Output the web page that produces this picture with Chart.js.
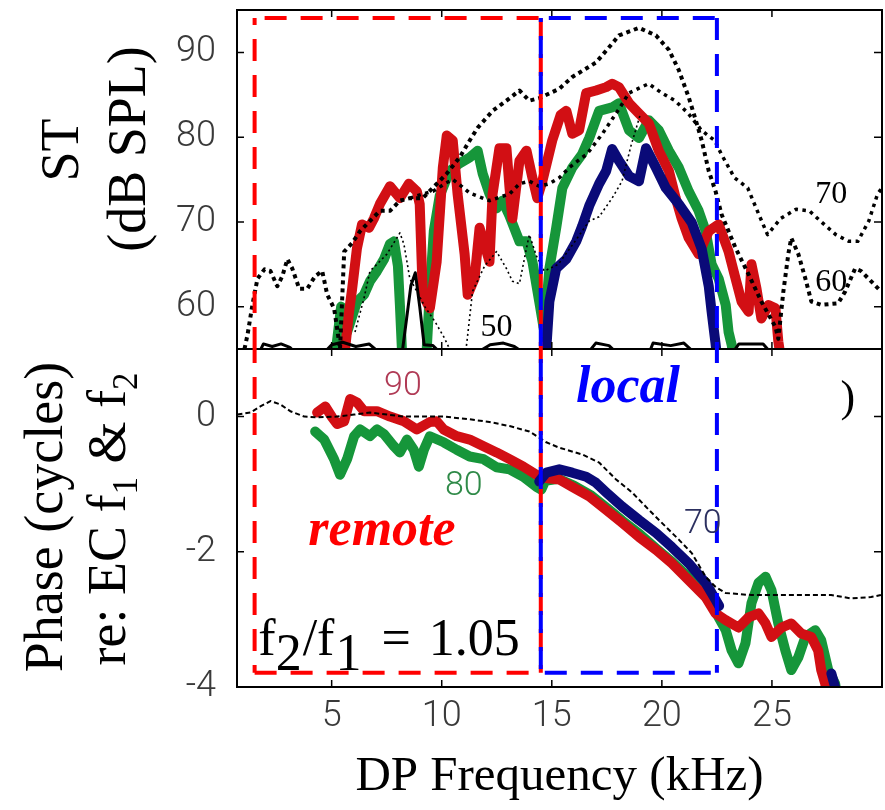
<!DOCTYPE html>
<html>
<head>
<meta charset="utf-8">
<script src="https://cdn.jsdelivr.net/npm/chart.js@4.4.1/dist/chart.umd.min.js"></script>
<style>
  html, body { margin: 0; padding: 0; background: #fff; }
  #wrap { position: relative; width: 885px; height: 810px; }
  #topBox { position: absolute; left: 0; top: 0; width: 885px; height: 349px; }
  #botBox { position: absolute; left: 0; top: 349px; width: 885px; height: 461px; }
</style>
</head>
<body>
<div id="wrap">
  <div id="topBox"><canvas id="stChart"></canvas></div>
  <div id="botBox"><canvas id="phaseChart"></canvas></div>
</div>
<script>
// tick labels
const freqTicks = [5, 10, 15, 20, 25];
const stTicks = [60, 70, 80, 90];
const phaseTicks = [0, -2, -4];

// ST level (dB SPL) vs DP frequency (kHz), [kHz, dB]
const st90 = [[5.57,54.0],[5.79,59.4],[5.93,62.1],[6.15,66.9],[6.38,69.7],[6.70,69.3],[6.92,70.4],[7.19,72.1],[7.65,74.2],[8.10,72.8],[8.51,74.5],[8.87,73.6],[9.00,72.1],[9.14,61.4],[9.46,59.8],[9.77,65.3],[10.05,76.4],[10.23,80.2],[10.50,79.6],[10.72,73.3],[11.04,66.2],[11.18,61.4],[11.49,63.3],[11.72,69.3],[12.17,65.3],[12.31,73.3],[12.62,78.7],[12.94,78.7],[13.08,74.0],[13.21,70.4],[13.53,77.2],[13.85,78.4],[14.12,75.2],[14.34,72.8],[14.57,74.8],[15.02,79.6],[15.40,82.6],[15.66,83.1],[15.93,80.4],[16.24,80.8],[16.56,85.2],[17.01,85.5],[17.47,85.9],[17.74,86.3],[18.05,85.9],[18.51,84.0],[18.96,82.8],[19.41,81.6],[19.86,78.4],[20.32,76.0],[20.63,72.8],[20.90,70.4],[21.22,68.1],[21.67,66.2],[22.13,68.9],[22.58,69.7],[23.03,66.5],[23.35,63.3],[23.62,60.6],[23.94,59.4],[24.07,65.0],[24.30,62.1],[24.52,58.6],[24.84,60.2],[25.16,59.8],[25.29,55.9],[25.40,54.0]];
const st80 = [[5.20,55.0],[5.43,60.0],[5.70,57.0],[5.93,58.8],[6.15,60.6],[6.47,61.4],[6.74,63.0],[7.06,64.2],[7.38,65.6],[7.65,67.4],[7.83,67.7],[8.01,64.8],[8.10,60.2],[8.19,55.0],[8.28,53.5],[9.23,53.5],[9.32,55.0],[9.46,61.8],[9.64,68.9],[9.91,73.1],[10.36,76.0],[10.81,76.9],[11.27,77.6],[11.63,78.4],[11.86,75.7],[12.17,73.3],[12.49,71.6],[12.76,72.5],[13.08,70.7],[13.53,67.7],[13.85,67.7],[14.12,65.3],[14.43,60.6],[14.66,57.0],[14.89,64.5],[15.20,69.3],[15.48,74.0],[15.93,76.4],[16.38,78.0],[16.70,79.9],[17.15,83.1],[17.74,83.5],[18.05,84.0],[18.51,80.8],[18.96,79.9],[19.41,82.0],[19.86,80.8],[20.32,78.4],[20.77,76.4],[21.22,73.6],[21.67,71.3],[21.99,68.9],[22.26,65.0],[22.58,63.3],[22.90,60.2],[23.03,57.0],[23.17,55.5],[23.30,53.5]];
const st70 = [[14.70,53.5],[14.75,55.0],[14.89,60.6],[15.20,64.5],[15.66,65.6],[16.11,67.7],[16.38,69.5],[16.70,71.9],[17.15,74.5],[17.47,76.0],[17.74,78.6],[18.05,77.2],[18.51,75.4],[18.96,74.8],[19.28,78.7],[19.73,76.4],[20.18,74.0],[20.77,72.1],[21.36,69.9],[21.81,66.8],[22.13,62.4],[22.26,59.4],[22.44,55.6],[22.53,53.5]];
const stDotUpper = [[1.04,55.0],[1.18,56.7],[1.40,60.2],[1.63,63.3],[1.95,64.4],[2.22,64.2],[2.53,62.4],[2.76,63.6],[2.99,65.6],[3.21,64.5],[3.53,62.1],[3.89,62.1],[4.25,63.6],[4.57,64.2],[4.80,61.4],[5.11,59.8],[5.25,57.4],[5.38,55.0],[5.57,66.5],[5.93,67.5],[6.29,68.9],[6.74,70.1],[7.19,71.3],[7.65,71.3],[8.10,72.5],[8.55,72.8],[9.14,72.8],[9.59,74.0],[10.23,75.7],[10.81,77.6],[11.27,79.6],[11.63,81.1],[12.31,83.1],[12.94,84.3],[13.53,85.5],[13.98,84.3],[14.43,84.6],[15.34,85.7],[15.93,87.1],[17.01,88.8],[17.60,90.6],[18.05,92.0],[18.96,92.9],[19.73,92.0],[20.32,90.3],[20.77,87.9],[21.22,84.7],[21.54,82.0],[21.81,79.6],[22.13,76.0],[22.44,73.6],[22.71,70.9],[23.35,66.9],[23.94,63.8],[24.52,60.6],[25.16,57.6],[25.29,56.2],[25.52,61.8],[25.75,66.3],[25.88,68.1],[26.20,66.2],[26.52,63.3],[26.79,60.6],[27.24,60.2],[28.01,60.4],[28.33,61.8],[28.78,64.5],[29.05,64.2],[29.50,63.0],[29.95,61.8]];
const stDotMid = [[8.55,72.8],[9.14,73.3],[9.60,73.6],[10.20,74.6],[10.50,75.0],[10.90,74.2],[11.27,73.4],[12.17,72.5],[13.08,73.3],[13.53,74.5],[13.98,74.8],[14.43,74.2],[14.89,74.5],[15.34,75.2],[15.79,76.4],[16.38,77.6],[16.60,78.0],[17.30,80.4],[18.10,83.5],[18.50,85.2],[19.40,86.3],[20.00,85.2],[20.60,84.3],[21.20,82.8],[21.80,80.8],[22.40,79.6],[22.70,78.0],[23.30,75.2],[23.90,74.0],[24.40,70.9],[24.80,68.5],[25.40,70.4],[26.10,71.5],[26.70,71.3],[27.20,70.1],[27.90,68.5],[28.50,67.7],[28.90,67.7],[29.40,70.1],[29.80,73.3],[30.00,74.0]];
const stDotThin = [[6.06,57.0],[6.47,61.0],[6.74,64.2],[7.06,65.0],[7.51,66.2],[7.96,68.1],[8.10,68.7],[8.28,67.4],[8.42,65.3],[8.55,63.3],[8.87,61.8],[9.23,60.0],[9.70,58.2],[10.10,56.4],[10.45,54.5],[11.05,54.5],[11.13,55.5],[11.40,61.8],[11.95,64.8],[12.49,66.5],[12.94,64.5],[13.21,63.0],[13.53,62.7],[13.85,66.9],[13.98,68.5],[14.30,66.0],[14.66,64.2],[15.30,65.0],[16.00,67.5],[16.70,70.1],[17.15,70.6],[17.74,72.8],[18.19,74.8],[18.60,79.0],[19.00,82.5]];
const stFloor = [[1.6,54.0],[1.9,55.6],[2.3,55.3],[2.7,55.6],[3.1,55.2],[3.4,54.4],[4.6,54.4],[5.0,55.5],[5.5,55.8],[6.1,55.3],[6.7,55.6],[7.2,54.5],[8.2,54.5],[8.4,58.5],[8.6,62.5],[8.8,64.0],[9.0,60.0],[9.2,55.5],[9.6,55.4],[10.0,54.4],[11.5,54.4],[12.2,55.5],[12.8,55.7],[13.3,55.3],[13.8,54.4],[16.6,54.4],[17.0,55.7],[17.6,55.4],[18.0,54.4],[19.4,54.4],[19.6,55.7],[20.4,55.4],[21.0,55.7],[21.5,54.5],[23.2,54.5],[23.5,55.6],[24.6,55.6],[25.0,54.4]];

// phase (cycles) vs DP frequency (kHz), [kHz, cycles]
const ph90 = [[4.34,0.06],[4.71,0.15],[5.02,-0.01],[5.25,-0.11],[5.57,-0.07],[5.84,0.26],[6.15,0.21],[6.47,0.08],[7.06,0.08],[7.65,0.00],[8.28,-0.07],[8.87,-0.19],[9.46,-0.08],[9.77,-0.07],[10.09,-0.19],[10.68,-0.29],[11.27,-0.34],[11.90,-0.44],[12.49,-0.53],[13.08,-0.63],[13.71,-0.74],[14.30,-0.86],[14.52,-0.90],[15.34,-0.93],[15.93,-1.04],[16.70,-1.18],[17.47,-1.38],[18.19,-1.57],[18.96,-1.78],[19.73,-1.97],[20.45,-2.17],[21.22,-2.42],[21.99,-2.67],[22.44,-2.91],[22.90,-3.01],[23.48,-3.12],[23.94,-2.97],[24.39,-2.91],[24.71,-3.06],[24.98,-3.26],[25.43,-3.12],[25.88,-3.06],[26.33,-3.21],[26.79,-3.26],[27.10,-3.46],[27.24,-3.75],[27.42,-3.95],[27.60,-4.30]];
const ph80 = [[4.25,-0.22],[4.66,-0.34],[5.11,-0.63],[5.38,-0.86],[5.70,-0.63],[6.02,-0.29],[6.29,-0.19],[6.74,-0.29],[7.06,-0.19],[7.38,-0.26],[7.83,-0.44],[8.10,-0.53],[8.42,-0.34],[8.73,-0.49],[8.96,-0.74],[9.19,-0.49],[9.46,-0.29],[10.09,-0.38],[10.68,-0.49],[11.27,-0.59],[11.90,-0.63],[12.49,-0.75],[13.08,-0.78],[13.71,-0.89],[14.30,-1.04],[14.52,-1.08],[14.70,-0.95],[15.30,-0.92],[16.00,-1.02],[16.80,-1.17],[17.50,-1.35],[18.20,-1.54],[19.00,-1.74],[19.70,-1.94],[20.50,-2.16],[21.20,-2.37],[22.00,-2.62],[22.58,-2.97],[22.90,-3.16],[23.17,-3.46],[23.48,-3.65],[23.80,-3.35],[24.07,-2.76],[24.39,-2.46],[24.71,-2.37],[24.98,-2.57],[25.29,-3.06],[25.61,-3.46],[25.88,-3.75],[26.20,-3.56],[26.52,-3.26],[26.97,-3.16],[27.24,-3.31],[27.56,-3.75],[27.87,-3.95],[28.00,-4.20]];
const ph70 = [[14.43,-0.96],[14.75,-0.83],[15.34,-0.78],[15.93,-0.83],[16.56,-0.89],[17.01,-0.98],[17.47,-1.12],[18.19,-1.33],[18.96,-1.53],[19.73,-1.72],[20.45,-1.93],[21.22,-2.17],[21.99,-2.46],[22.44,-2.71],[22.60,-2.80],[22.70,null],[27.70,-3.80],[27.95,-4.10],[28.10,-4.30]];
const phRef = [[0.72,0.03],[1.31,0.06],[1.76,0.15],[2.22,0.23],[2.67,0.18],[3.12,0.08],[3.76,0.00],[4.34,-0.01],[5.25,0.00],[6.02,0.03],[6.74,0.06],[7.51,0.03],[8.28,0.00],[9.19,0.00],[10.09,0.00],[11.27,-0.04],[12.17,-0.08],[13.08,-0.14],[13.98,-0.22],[14.75,-0.38],[15.34,-0.46],[16.38,-0.56],[17.15,-0.68],[17.92,-0.93],[18.64,-1.12],[19.41,-1.38],[20.18,-1.63],[20.77,-1.82],[21.36,-2.02],[21.99,-2.37],[22.44,-2.52],[22.90,-2.61],[24.07,-2.64],[25.29,-2.64],[26.52,-2.64],[27.69,-2.64],[28.60,-2.69],[29.50,-2.67],[29.95,-2.64]];

// frequency bands marked with dashed boxes
const remoteBand = [1.5, 14.5];
const localBand = [14.5, 22.5];

const SERIF = "'Liberation Serif', 'Times New Roman', serif";
const SANS = "Roboto, 'Liberation Sans', Arial, sans-serif";
const RED = '#d20f14', GREEN = '#16963a', NAVY = '#0a0a78';

function pts(arr) { return arr.map(p => ({ x: p[0], y: p[1] })); }

function line(arr, color, width, dash) {
  return {
    data: pts(arr),
    borderColor: color,
    borderWidth: width,
    borderDash: dash || [],
    borderCapStyle: dash ? 'butt' : 'round',
    borderJoinStyle: 'round',
    pointRadius: 0,
    tension: 0,
    fill: false,
    spanGaps: false,
    clip: 0
  };
}

function frameAndTicks(chart, yTicks) {
  const { ctx, chartArea: a, scales } = chart;
  ctx.save();
  ctx.strokeStyle = '#000';
  ctx.lineWidth = 2;
  ctx.strokeRect(a.left, a.top, a.right - a.left, a.bottom - a.top);
  ctx.lineWidth = 1.5;
  ctx.beginPath();
  freqTicks.forEach(v => {
    const px = scales.x.getPixelForValue(v);
    ctx.moveTo(px, a.top); ctx.lineTo(px, a.top + 7);
    ctx.moveTo(px, a.bottom); ctx.lineTo(px, a.bottom - 7);
  });
  yTicks.forEach(v => {
    const py = scales.y.getPixelForValue(v);
    ctx.moveTo(a.left, py); ctx.lineTo(a.left + 7, py);
    ctx.moveTo(a.right, py); ctx.lineTo(a.right - 8, py);
  });
  ctx.stroke();
  ctx.restore();
}

function dashed(ctx, path, color, offset) {
  ctx.save();
  ctx.strokeStyle = color;
  ctx.lineWidth = 4;
  ctx.setLineDash([22, 14]);
  ctx.lineDashOffset = offset || 0;
  ctx.beginPath();
  ctx.moveTo(path[0][0], path[0][1]);
  for (let i = 1; i < path.length; i++) ctx.lineTo(path[i][0], path[i][1]);
  ctx.stroke();
  ctx.restore();
}

// rotated axis title, parts = [[text, isSub]]
function vTitle(ctx, baseX, centerY, parts, size) {
  ctx.save();
  ctx.translate(baseX, centerY);
  ctx.rotate(-Math.PI / 2);
  ctx.fillStyle = '#000';
  ctx.textBaseline = 'alphabetic';
  ctx.textAlign = 'left';
  const subSize = Math.round(size * 0.64);
  let w = 0;
  parts.forEach(p => {
    ctx.font = (p[1] ? subSize : size) + 'px ' + SERIF;
    w += ctx.measureText(p[0]).width;
  });
  let cx = -w / 2;
  parts.forEach(p => {
    ctx.font = (p[1] ? subSize : size) + 'px ' + SERIF;
    ctx.fillText(p[0], cx, p[1] ? 12 : 0);
    cx += ctx.measureText(p[0]).width;
  });
  ctx.restore();
}

function txt(ctx, s, x, y, font, color, align, base) {
  ctx.save();
  ctx.font = font;
  ctx.fillStyle = color;
  ctx.textAlign = align || 'center';
  ctx.textBaseline = base || 'middle';
  ctx.fillText(s, x, y);
  ctx.restore();
}

const topDecor = {
  id: 'topDecor',
  afterDraw(chart) {
    const { ctx, scales: { x, y } } = chart;
    const H = chart.height;
    frameAndTicks(chart, stTicks);
    const yTop = y.getPixelForValue(94.05);
    const xL = x.getPixelForValue(remoteBand[0]);
    const xM = x.getPixelForValue(remoteBand[1]);
    const xR = x.getPixelForValue(localBand[1]);
    dashed(ctx, [[xL, H], [xL, yTop]], '#ff0000');
    dashed(ctx, [[xL, yTop], [xM, yTop]], '#ff0000', -10);
    dashed(ctx, [[xM, yTop], [xM, H]], '#ff0000', 0);
    dashed(ctx, [[xM, yTop], [xR, yTop]], '#0000ff', -8);
    dashed(ctx, [[xM, yTop], [xM, H]], '#0000ff', 18);
    dashed(ctx, [[xR, yTop], [xR, H]], '#0000ff', 0);
    // level labels
    const f = '32px ' + SERIF;
    txt(ctx, '50', x.getPixelForValue(12.49), y.getPixelForValue(57.5), f, '#000');
    txt(ctx, '70', x.getPixelForValue(27.69), y.getPixelForValue(73.2), f, '#000');
    txt(ctx, '60', x.getPixelForValue(27.69), y.getPixelForValue(62.8), f, '#000');
    // y axis titles
    vTitle(ctx, 78, 150, [['ST', false]], 54);
    vTitle(ctx, 145, 149, [['(dB SPL)', false]], 54);
  }
};

const botDecor = {
  id: 'botDecor',
  afterDraw(chart) {
    const { ctx, scales: { x, y } } = chart;
    frameAndTicks(chart, phaseTicks);
    const yBot = y.getPixelForValue(-3.79);
    const xL = x.getPixelForValue(remoteBand[0]);
    const xM = x.getPixelForValue(remoteBand[1]);
    const xR = x.getPixelForValue(localBand[1]);
    dashed(ctx, [[xL, 0], [xL, yBot]], '#ff0000', 8);
    dashed(ctx, [[xL, yBot], [xM, yBot]], '#ff0000', 0);
    dashed(ctx, [[xM, 0], [xM, yBot]], '#ff0000', 8);
    dashed(ctx, [[xM, 0], [xM, yBot]], '#0000ff', 26);
    dashed(ctx, [[xM, yBot], [xR, yBot]], '#0000ff', -4);
    dashed(ctx, [[xR, 0], [xR, yBot]], '#0000ff', 8);
    // level labels
    const lf = '300 34px ' + SANS;
    txt(ctx, '90', x.getPixelForValue(8.24), y.getPixelForValue(0.45), lf, '#b03a55');
    txt(ctx, '80', x.getPixelForValue(11.0), y.getPixelForValue(-1.04), lf, '#2f8a48');
    txt(ctx, '70', x.getPixelForValue(21.86), y.getPixelForValue(-1.60), lf, '#2c3060');
    txt(ctx, ')', x.getPixelForValue(28.45), y.getPixelForValue(0.25), '44px ' + SERIF, '#000');
    // region labels
    const bi = 'bold italic 52px ' + SERIF;
    txt(ctx, 'remote', x.getPixelForValue(3.94), y.getPixelForValue(-1.90), bi, '#ff0000', 'left', 'alphabetic');
    txt(ctx, 'local', x.getPixelForValue(16.1), y.getPixelForValue(0.22), bi, '#0000ff', 'left', 'alphabetic');
    // f2/f1 = 1.05
    ctx.save();
    ctx.fillStyle = '#000';
    ctx.textBaseline = 'alphabetic';
    ctx.textAlign = 'left';
    ctx.font = '52px ' + SERIF;
    let cx = x.getPixelForValue(1.67);
    const by = y.getPixelForValue(-3.53);
    [['f', 0, 0], ['2', 15, 1], ['/', 0, 0], ['f', 0, 1], ['1', 15, 20], ['=', 0, 18], ['1.05', 0, 0]].forEach(p => {
      ctx.fillText(p[0], cx, by + p[1]);
      cx += ctx.measureText(p[0]).width + p[2];
    });
    ctx.restore();
    // y axis titles
    vTitle(ctx, 62, 168, [['Phase (cycles)', false]], 54);
    vTitle(ctx, 125, 170, [['re: EC f', false], ['1', true], [' & f', false], ['2', true]], 54);
  }
};

const zeroPad = s => { s.paddingTop = 0; s.paddingBottom = 0; s.paddingLeft = 0; s.paddingRight = 0; };
const tickFont = { family: SANS, size: 36, weight: 300 };

const stData = {
  datasets: [
    line(stDotUpper, '#000', 4, [4, 4]),
    line(stDotMid, '#000', 3.5, [3.5, 4.5]),
    line(stDotThin, '#000', 1.6, [2, 3]),
    line(stFloor, '#000', 3),
    line(st70, NAVY, 10),
    line(st90, RED, 10),
    line(st80, GREEN, 10)
  ]
};

const configST = {
  type: 'line',
  data: stData,
  options: {
    responsive: true,
    maintainAspectRatio: false,
    animation: false,
    layout: { padding: { left: 0, right: 3, top: 10, bottom: 0 } },
    plugins: { legend: { display: false }, tooltip: { enabled: false } },
    scales: {
      x: { type: 'linear', display: false, min: 0.7, max: 30 },
      y: {
        type: 'linear', min: 55, max: 95,
        afterBuildTicks: s => { s.ticks = stTicks.map(v => ({ value: v })); },
        afterFit: s => { zeroPad(s); s.width = 237; },
        grid: { display: false, drawTicks: false },
        border: { display: false },
        ticks: { font: tickFont, color: '#3a3a3a', padding: 21, autoSkip: false }
      }
    }
  },
  plugins: [topDecor]
};

const phData = {
  datasets: [
    line(phRef, '#000', 2, [5, 3]),
    line(ph70, NAVY, 10),
    line(ph90, RED, 10),
    line(ph80, GREEN, 10)
  ]
};

const configPhase = {
  type: 'line',
  data: phData,
  options: {
    responsive: true,
    maintainAspectRatio: false,
    animation: false,
    layout: { padding: { left: 0, right: 3, top: 0, bottom: 0 } },
    plugins: { legend: { display: false }, tooltip: { enabled: false } },
    scales: {
      x: {
        type: 'linear', min: 0.7, max: 30,
        afterBuildTicks: s => { s.ticks = freqTicks.map(v => ({ value: v })); },
        afterFit: s => { zeroPad(s); s.height = 123; },
        grid: { display: false, drawTicks: false },
        border: { display: false },
        ticks: { font: tickFont, color: '#3a3a3a', padding: 8, autoSkip: false, maxRotation: 0 },
        title: { display: true, text: 'DP Frequency (kHz)', color: '#000', font: { family: SERIF, size: 49 }, padding: { top: 0, bottom: 3 } }
      },
      y: {
        type: 'linear', min: -4, max: 1,
        afterBuildTicks: s => { s.ticks = phaseTicks.map(v => ({ value: v })); },
        afterFit: s => { zeroPad(s); s.width = 237; },
        grid: { display: false, drawTicks: false },
        border: { display: false },
        ticks: { font: tickFont, color: '#3a3a3a', padding: 21, autoSkip: false }
      }
    }
  },
  plugins: [botDecor]
};

const stChart = new Chart(document.getElementById('stChart'), configST);
const phaseChart = new Chart(document.getElementById('phaseChart'), configPhase);
</script>
</body>
</html>
